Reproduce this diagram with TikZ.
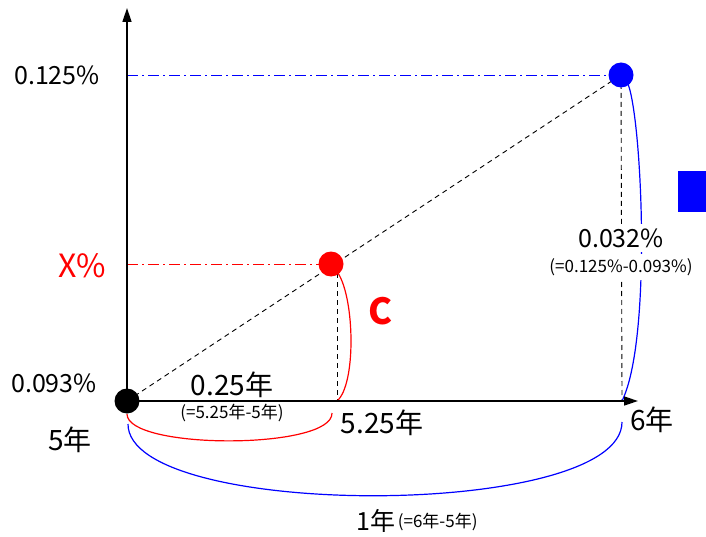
\documentclass[tikz,border=0pt]{standalone}
\usepackage{fontspec}
\setmainfont{Noto Sans CJK JP}
\usepackage{xcolor}
\usetikzlibrary{arrows.meta, positioning}

\tikzset{
	dot/.style={circle, fill, inner sep=0pt, minimum size=25pt},
	lbl/.style={inner sep=1pt, font=\fontsize{25}{28}\selectfont},
	yrlbl/.style={inner sep=1pt, font=\fontsize{28}{30}\selectfont},
	sublbl/.style={inner sep=1pt, font=\fontsize{17}{19}\selectfont},
	guide/.style={line width=0.9pt, dash pattern=on 5pt off 4pt},
	ddline/.style={line width=0.9pt, dash pattern=on 11pt off 4pt on 2pt off 4pt},
	brace/.style={line width=1.2pt}
}

\begin{document}
\begin{tikzpicture}[x=1pt, y=-1pt, >={Triangle[length=14pt, width=9pt]}]
				\useasboundingbox (0,0) rectangle (706,537);
				% Paths, nodes and wires:
				\coordinate (o) at (127,401);
				\coordinate (ytop) at (127,8);
				\coordinate (xend) at (638,401);
				\coordinate (y125) at (127,75);
				\coordinate (yx) at (127,264);
				\coordinate (cc) at (331,264);
				\coordinate (c6) at (621,75);
				\coordinate (x525) at (337,401);
				\coordinate (x6) at (622,401);
				
				\draw[blue, ddline] (y125) -- (c6);
				\draw[red, ddline] (yx) -- (cc);
				\draw[guide] (o) -- (c6);
				\draw[guide] (337,264) -- (x525);
				\draw[guide] (c6) -- (x6);
				
				\draw[red, brace] (338,273) .. controls (355,300) and (356,385) .. (x525);
				\draw[blue, brace] (628,84) .. controls (642,120) and (652,340) .. (x6);
				\draw[red, brace] (127,414) .. controls (127,450) and (333,450) .. (332,413);
				\draw[blue, brace] (128,424) .. controls (128,520) and (622,520) .. (622,422);
				
				\draw[line width=1.6pt, ->] (o) -- (ytop);
				\draw[line width=1.6pt, ->] (o) -- (xend);
				
				\node[dot] (p5) at (o){};
				\node[dot, fill=red] (pc) at (cc){};
				\node[dot, fill=blue] (p6) at (c6){};
				
				\node[lbl] (l125) at (57,75){0.125\%};
				\node[lbl, red, font=\fontsize{32}{34}\selectfont] (lx) at (82,266){X\%};
				\node[lbl] (l093) at (54,383){0.093\%};
				\node[yrlbl] (l5) at (70,440){5年};
				\node[yrlbl] (ld) at (232,385){0.25年};
				\node[sublbl] (ldsub) at (232,413){(=5.25年-5年)};
				\node[yrlbl] (l525) at (382,423){5.25年};
				\node[yrlbl] (l6) at (652,420){6年};
				\node[lbl, red, font=\fontsize{36}{38}\selectfont\bfseries] (lc) at (381,311){C};
				\node[lbl, fill=white, inner ysep=5pt] (lrise) at (621,238){0.032\%};
				\node[sublbl, fill=white, inner ysep=4pt] (lrisesub) at (621,267){(=0.125\%-0.093\%)};
				\node[lbl] (l1) at (376,521){1年};
				\node[sublbl, right=0pt of l1, yshift=-1pt] (l1sub){(=6年-5年)};
				\node[fill=blue, inner sep=0pt, minimum width=28pt, minimum height=41pt] (mark) at (692,192){};
			\end{tikzpicture}
\end{document}
